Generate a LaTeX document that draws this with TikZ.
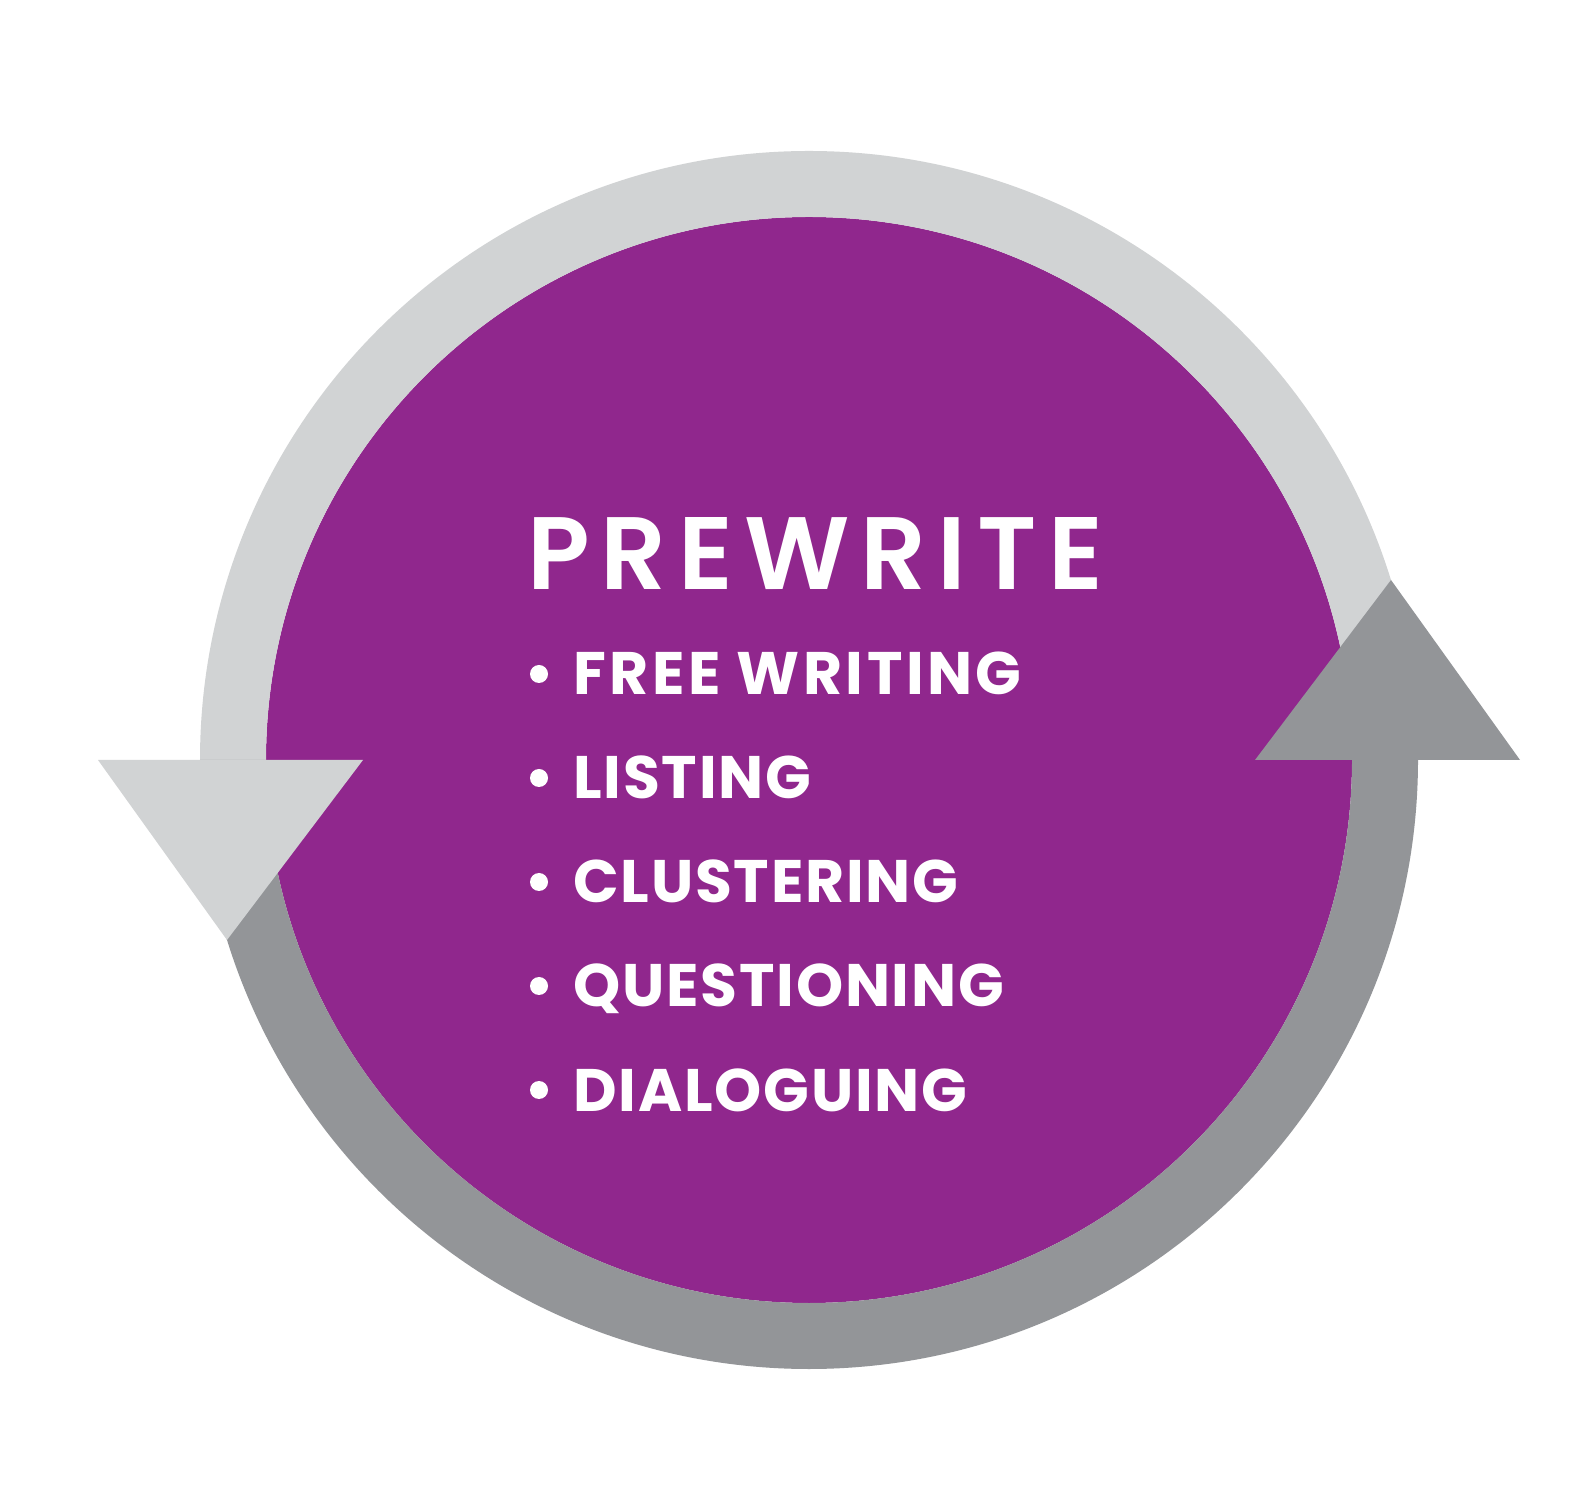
\documentclass[tikz,border=0pt]{standalone}
\usepackage{fontspec}
\usetikzlibrary{calc}
\setmainfont{Poppins}[BoldFont={* Bold}]
\newfontfamily\itemfont{Poppins Bold}[LetterSpace=3.0]
\newfontfamily\itemfontwide{Poppins Bold}[LetterSpace=5.8]
\newfontfamily\titlefont{Poppins SemiBold}[LetterSpace=10.8]
\definecolor{ringlight}{HTML}{D1D3D4}
\definecolor{ringdark}{HTML}{939598}
\definecolor{discpurple}{HTML}{90278D}
\begin{document}
\begin{tikzpicture}[x=1pt,y=1pt,
  itemtext/.style={anchor=base west,inner sep=0pt,text=white,font=\itemfont\fontsize{60}{70}\selectfont},
  titletext/.style={anchor=base west,inner sep=0pt,text=white,font=\titlefont\fontsize{103}{120}\selectfont},
  bulletdot/.style={circle,fill=white,draw=none,minimum size=18pt,inner sep=0pt}]
\useasboundingbox[fill=white] (0,0) rectangle (1592,1508);
\coordinate (C) at (809,748);
% purple disc
\fill[discpurple] (C) circle[radius=543];
% upper light ring
\fill[ringlight] ($(C)+(180:609)$) arc[start angle=180,end angle=0,radius=609]
  -- ($(C)+(0:543)$) arc[start angle=0,end angle=180,radius=543] -- cycle;
% lower dark ring
\fill[ringdark] ($(C)+(180:609)$) arc[start angle=180,end angle=360,radius=609]
  -- ($(C)+(0:543)$) arc[start angle=360,end angle=180,radius=543] -- cycle;
% arrowheads
\fill[ringlight] ($(C)+(-711,0)$) -- ($(C)+(-446,0)$) -- ($(C)+(-582,-180)$) -- cycle;
\fill[ringdark] ($(C)+(711,0)$) -- ($(C)+(446,0)$) -- ($(C)+(582,180)$) -- cycle;
% texts
\node[titletext] (title) at (527,918) {PREWRITE};
\node[bulletdot] (b1) at (539,834) {};
\node[itemtext,font=\itemfontwide\fontsize{60}{70}\selectfont] (t1) at (573,813) {FREE WRITING};
\node[bulletdot] (b2) at (539,730) {};
\node[itemtext] (t2) at (573,709) {LISTING};
\node[bulletdot] (b3) at (539,626) {};
\node[itemtext] (t3) at (573,605) {CLUSTERING};
\node[bulletdot] (b4) at (539,522) {};
\node[itemtext] (t4) at (573,501) {QUESTIONING};
\node[bulletdot] (b5) at (539,418) {};
\node[itemtext] (t5) at (573,397) {DIALOGUING};
\end{tikzpicture}
\end{document}
